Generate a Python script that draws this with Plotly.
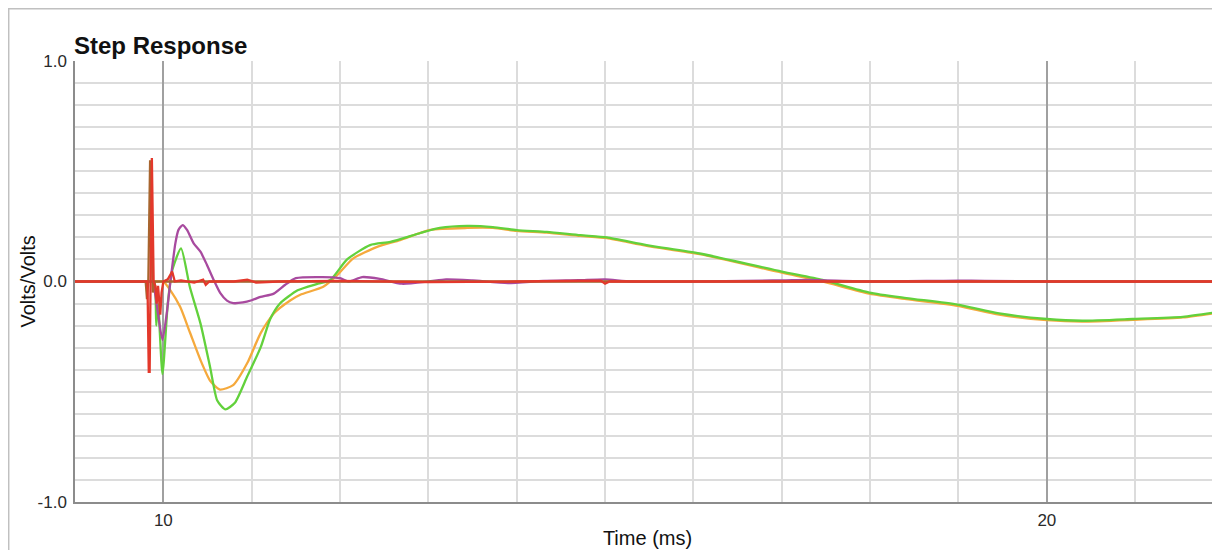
import plotly.graph_objects as go

# ---- data (time in ms, response in Volts/Volts) ----
orange_t = [9.0, 9.5, 9.95, 10.0, 10.08, 10.19, 10.3, 10.42, 10.53, 10.64, 10.79, 10.95, 11.1, 11.25, 11.44, 11.55, 11.81,
            11.97, 12.15, 12.42, 12.68, 13.02, 13.44, 13.73, 14.0, 14.34, 14.72, 15.02, 15.47, 16.07, 17.0, 17.46,
            17.99, 18.41, 18.99, 19.46, 20.0, 20.4, 20.97, 21.54, 21.96]
orange_v = [0.0, 0.0, 0.0, 0.0, -0.04, -0.115, -0.23, -0.356, -0.45, -0.49, -0.47, -0.37, -0.235, -0.145, -0.085, -0.06,
            -0.024, 0.03, 0.105, 0.157, 0.188, 0.234, 0.243, 0.243, 0.23, 0.222, 0.207, 0.197, 0.162, 0.124, 0.04, 0.0,
            -0.055, -0.08, -0.11, -0.15, -0.175, -0.182, -0.174, -0.163, -0.14]

green_t = [9.0, 9.5, 9.88, 9.90, 9.92, 9.94, 9.99, 10.05, 10.1, 10.2, 10.3, 10.42, 10.53, 10.61, 10.70, 10.81, 10.95,
           11.1, 11.21, 11.32, 11.52, 11.75, 11.89, 12.08, 12.34, 12.57, 12.91, 13.13, 13.44, 13.73, 14.0, 14.34,
           14.72, 15.02, 15.47, 16.07, 17.0, 17.46, 17.99, 18.41, 18.99, 19.46, 20.0, 20.4, 20.97, 21.54, 21.96]
green_v = [0.0, 0.0, 0.0, 0.0, -0.2, -0.1, -0.42, -0.1, 0.05, 0.15, -0.025, -0.19, -0.39, -0.54, -0.58, -0.55, -0.43,
           -0.30, -0.17, -0.10, -0.04, -0.01, 0.007, 0.10, 0.165, 0.18, 0.22, 0.243, 0.252, 0.247, 0.233, 0.225,
           0.21, 0.20, 0.165, 0.127, 0.045, 0.007, -0.05, -0.075, -0.105, -0.145, -0.17, -0.178, -0.17, -0.16, -0.137]

magenta_t = [9.0, 9.5, 9.86, 9.88, 9.93, 9.99, 10.04, 10.08, 10.136, 10.17, 10.218, 10.268, 10.343, 10.42, 10.494,
             10.57, 10.645, 10.72, 10.79, 10.9, 11.0, 11.1, 11.25, 11.38, 11.5, 11.8, 12.0, 12.1, 12.25, 12.45, 12.7,
             13.0, 13.2, 13.5, 13.9, 14.3, 14.7, 15.0, 15.3, 17.0, 17.3, 18.0, 19.0, 19.3, 20.0, 22.0]
magenta_v = [0.0, 0.0, 0.0, 0.0, -0.12, -0.265, -0.14, 0.0, 0.173, 0.233, 0.256, 0.234, 0.173, 0.135, 0.075,
             0.007, -0.053, -0.087, -0.098, -0.095, -0.085, -0.07, -0.055, -0.015, 0.015, 0.02, 0.015, 0.0, 0.02,
             0.012, -0.01, 0.0, 0.01, 0.005, -0.007, 0.003, 0.006, 0.01, 0.0, 0.005, 0.007, 0.0, 0.004, 0.003, 0.0,
             0.0]

brown_t = [9.0, 9.80, 9.815, 9.83, 9.85, 9.87, 9.88, 9.90, 22.0]
brown_v = [0.0, 0.0, -0.08, 0.0, 0.55, 0.1, -0.05, 0.0, 0.0]

red_t = [9.0, 9.82, 9.835, 9.845, 9.87, 9.89, 9.91, 9.925, 9.94, 9.965, 9.98, 10.0, 10.05, 10.1, 10.13, 10.2, 10.35,
         10.45, 10.48, 10.52, 10.8, 10.95, 11.05, 11.3, 12.0, 13.0, 14.0, 14.95, 15.0, 15.05, 18.0, 22.0]
red_v = [0.0, 0.0, -0.41, -0.41, 0.56, 0.0, -0.02, -0.10, -0.02, -0.15, -0.05, 0.0, 0.01, 0.045, 0.0, 0.005, -0.005,
         0.008, -0.015, 0.0, 0.0, 0.008, -0.005, 0.0, 0.003, -0.003, 0.0, 0.004, -0.01, 0.0, 0.0, 0.0]

x_ticks = [10, 20]
x_labels = ["10", "20"]
y_ticks = [-1.0, 0.0, 1.0]
y_labels = ["-1.0", "0.0", "1.0"]

fig = go.Figure()
series = [
    (orange_t, orange_v, "#f5a93c", "spline"),
    (green_t, green_v, "#62d13c", "spline"),
    (magenta_t, magenta_v, "#a84a9f", "spline"),
    (brown_t, brown_v, "#a8652e", "linear"),
    (red_t, red_v, "#e3382b", "linear"),
]
for t, v, c, shape in series:
    fig.add_trace(go.Scatter(x=t, y=v, mode="lines",
                             line=dict(color=c, width=2.3, shape=shape, smoothing=0.6 if shape == "spline" else None),
                             showlegend=False, hoverinfo="skip"))

FONT = "Liberation Sans, Arial, sans-serif"
axis_font = dict(family=FONT, size=17, color="#2a2a2a")

# page has an 8px body margin, so the figure is 8px smaller than the window
fig.update_layout(
    width=1212, height=542,
    margin=dict(l=67, r=0, t=53, b=48, autoexpand=False),
    paper_bgcolor="white", plot_bgcolor="white",
    showlegend=False,
    xaxis=dict(range=[9.0, 21.96], tickvals=x_ticks, ticktext=x_labels, ticks="",
               showgrid=True, gridcolor="#a0a0a0", gridwidth=1.5,
               minor=dict(dtick=1, tick0=0, showgrid=True, gridcolor="#dcdcdc", gridwidth=1.5),
               showline=True, linecolor="#8c8c8c", linewidth=1.5, mirror=False, automargin=False,
               zeroline=False, tickfont=axis_font, ticklabelstandoff=2,
               title=dict(text="Time (ms)", font=dict(family=FONT, size=20, color="#111"), standoff=2)),
    yaxis=dict(range=[-1.0, 1.0], tickvals=y_ticks, ticktext=y_labels, ticks="",
               showgrid=True, gridcolor="#dcdcdc", gridwidth=1.5,
               minor=dict(dtick=0.1, tick0=0, showgrid=True, gridcolor="#dcdcdc", gridwidth=1.5),
               showline=True, linecolor="#8c8c8c", linewidth=1.5, mirror=True, automargin=False,
               zeroline=False, tickfont=axis_font, ticklabelstandoff=3),
    annotations=[
        dict(text="<b>Step Response</b>", xref="paper", yref="paper", x=0, y=1,
             xanchor="left", yanchor="bottom", showarrow=False, xshift=-3, yshift=0,
             font=dict(family=FONT, size=24, color="#111")),
        dict(text="Volts/Volts", xref="paper", yref="paper", x=0, y=0.5, textangle=-90,
             xanchor="center", yanchor="middle", showarrow=False, xshift=-48,
             font=dict(family=FONT, size=20, color="#111")),
    ],
    shapes=[dict(type="rect", xref="paper", yref="paper", x0=-0.0579, x1=1.2, y0=-0.3, y1=1.1185,
                 line=dict(color="#c0c0c0", width=1.5), fillcolor="rgba(0,0,0,0)", layer="below")],
)

fig.write_html("out.html")
